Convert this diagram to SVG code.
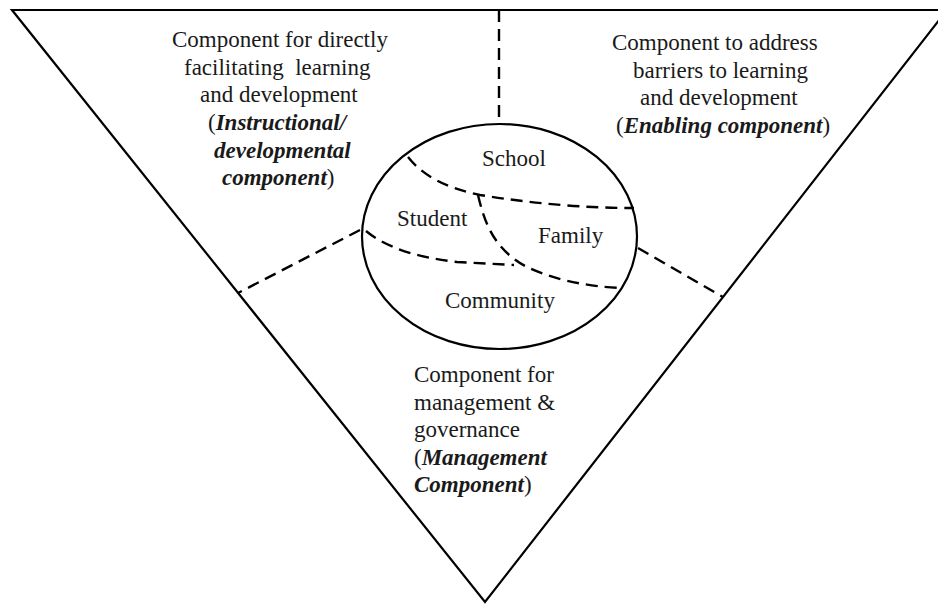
<svg xmlns="http://www.w3.org/2000/svg" width="938" height="605" viewBox="0 0 938 605">
<style>
.txt{font-family:"Liberation Serif","Times New Roman",serif;font-size:23px;fill:#1a1a1a}
.bi{font-weight:bold;font-style:italic}
.solid{fill:none;stroke:#000;stroke-width:2.2}
.dash{fill:none;stroke:#000;stroke-width:2.4;stroke-dasharray:12 7}
</style>
<rect width="938" height="605" fill="#fff"/>
<g id="frame">
<polygon class="solid" points="12,10 947,10 485,602" stroke-linejoin="miter"/>
</g>
<g id="connectors">
<path class="dash" d="M499,10 L499,124"/>
<path class="dash" d="M360,230 L238,293"/>
<path class="dash" d="M638,248 L723,297"/>
<path class="dash" d="M408,157 Q430,185 480,195 Q560,208 634,208"/>
<path class="dash" d="M366,231 Q395,255 457,262 L514,265"/>
<path class="dash" d="M478,195 C485,225 495,250 527,267 Q565,285 620,288"/>
</g>
<g id="circle">
<ellipse class="solid" cx="499.5" cy="236.5" rx="137.5" ry="112.5"/>
</g>
<g id="school"><text class="txt" x="482" y="166">School</text></g>
<g id="student"><text class="txt" x="397" y="226">Student</text></g>
<g id="family"><text class="txt" x="538" y="243">Family</text></g>
<g id="community"><text class="txt" x="445" y="308">Community</text></g>
<g id="instructional">
<text class="txt" x="172" y="47">Component for directly</text>
<text class="txt" x="184" y="75" xml:space="preserve">facilitating  learning</text>
<text class="txt" x="200" y="102">and development</text>
<text class="txt" x="208" y="130">(<tspan class="bi">Instructional/</tspan></text>
<text class="txt bi" x="214" y="158">developmental</text>
<text class="txt" x="222" y="185"><tspan class="bi">component</tspan>)</text>
</g>
<g id="enabling">
<text class="txt" x="612" y="50">Component to address</text>
<text class="txt" x="633" y="78">barriers to learning</text>
<text class="txt" x="640" y="105">and development</text>
<text class="txt" x="616" y="133">(<tspan class="bi">Enabling component</tspan>)</text>
</g>
<g id="management">
<text class="txt" x="414" y="382">Component for</text>
<text class="txt" x="414" y="410">management &amp;</text>
<text class="txt" x="414" y="437">governance</text>
<text class="txt" x="414" y="465">(<tspan class="bi">Management</tspan></text>
<text class="txt" x="414" y="492"><tspan class="bi">Component</tspan>)</text>
</g>
</svg>
